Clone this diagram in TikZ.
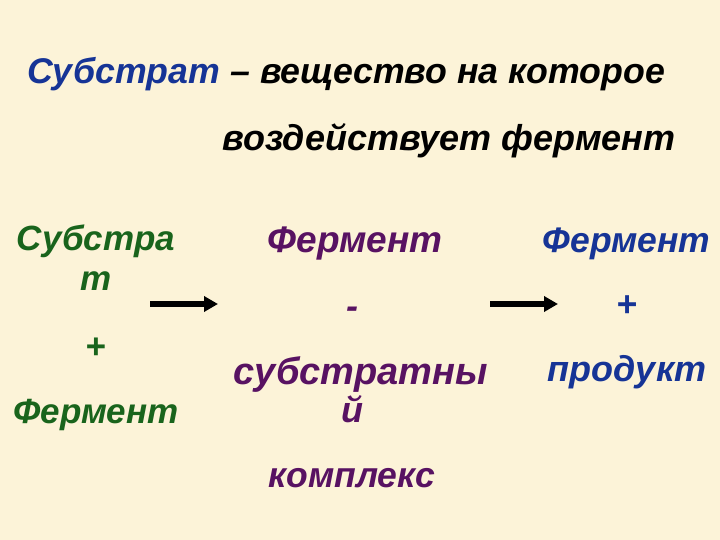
\documentclass[tikz,border=0pt]{standalone}
\usepackage{fontspec}
\setmainfont{Liberation Sans}
\usetikzlibrary{arrows.meta}
\definecolor{bg}{RGB}{252,243,216}
\definecolor{tblue}{RGB}{22,52,150}
\definecolor{tgreen}{RGB}{25,100,28}
\definecolor{tpurple}{RGB}{88,18,98}
\newcommand{\fs}[1]{\fontsize{#1}{#1}\selectfont\bfseries\itshape}
\tikzset{
  txt/.style={inner sep=0pt, anchor=base, font=\fs{36}},
  green/.style={txt, text=tgreen, font=\fs{35}},
  purple/.style={txt, text=tpurple},
  blue/.style={txt, text=tblue, font=\fs{35.5}},
  arr/.style={line width=6pt, -{Triangle[length=14pt,width=15pt]}, black}
}
\begin{document}
\begin{tikzpicture}[x=1pt,y=-1pt]
\fill[bg] (0,0) rectangle (720,540);
\useasboundingbox (0,0) rectangle (720,540);
\node[txt, anchor=base west, font=\fs{35.7}] (t1) at (27,84) {\textcolor{tblue}{Субстрат} – вещество на которое};
\node[txt, anchor=base west] (t2) at (222,151) {воздействует фермент};
% left column
\node[green] (l1) at (96,250) {Субстра};
\node[green] (l2) at (96,290) {т};
\node[green] (l3) at (96,358) {+};
\node[green] (l4) at (96,423) {Фермент};
% middle column
\node[purple, font=\fs{37}] (m1) at (355,252) {Фермент};
\node[purple] (m2) at (352,318) {-};
\node[purple, font=\fs{38}] (m3) at (361,384) {субстратны};
\node[purple] (m4) at (352,422) {й};
\node[purple, font=\fs{35.5}] (m5) at (352,487) {комплекс};
% right column
\node[blue] (r1) at (626.5,252) {Фермент};
\node[blue] (r2) at (627,316) {+};
\node[blue, font=\fs{36}] (r3) at (627,381) {продукт};
% arrows
\coordinate (a1s) at (150,304);
\coordinate (a1e) at (218,304);
\coordinate (a2s) at (490,304);
\coordinate (a2e) at (558,304);
\draw[arr] (a1s) -- (a1e);
\draw[arr] (a2s) -- (a2e);
\end{tikzpicture}
\end{document}
